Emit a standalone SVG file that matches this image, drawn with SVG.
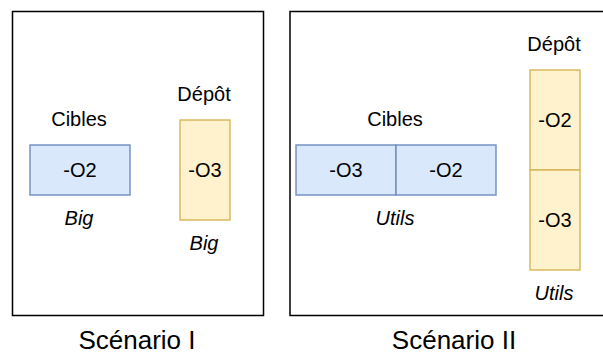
<svg xmlns="http://www.w3.org/2000/svg" width="603" height="354" viewBox="0 0 603 354">
<style>
.frame{fill:#ffffff;stroke:#000000;stroke-width:1.5}
.blue{fill:#dae8fc;stroke:#6c8ebf;stroke-width:1.4}
.yellow{fill:#fff2cc;stroke:#d6b656;stroke-width:1.4}
text{font-family:"Liberation Sans",Arial,Helvetica,sans-serif;fill:#000000;text-anchor:middle}
.lbl{font-size:20px}
.it{font-size:20px;font-style:italic}
.title{font-size:26px}
</style>
<rect width="603" height="354" fill="#ffffff"/>
<g id="scenario1">
  <rect class="frame" x="12.5" y="11.5" width="251" height="304"/>
  <text class="title" x="137" y="349">Scénario I</text>
</g>
<g id="scenario2">
  <rect class="frame" x="290" y="11.5" width="330" height="304"/>
  <text class="title" x="454" y="349">Scénario II</text>
</g>
<g id="s1-cibles">
  <text class="lbl" x="79" y="126">Cibles</text>
  <rect class="blue" x="30" y="145" width="100" height="50"/>
  <text class="lbl" x="80" y="177">-O2</text>
  <text class="it" x="79" y="225">Big</text>
</g>
<g id="s1-depot">
  <text class="lbl" x="204" y="101">Dépôt</text>
  <rect class="yellow" x="180" y="120" width="50" height="100"/>
  <text class="lbl" x="205" y="177">-O3</text>
  <text class="it" x="204" y="250">Big</text>
</g>
<g id="s2-cibles">
  <text class="lbl" x="395" y="126">Cibles</text>
  <rect class="blue" x="296" y="145" width="100" height="50"/>
  <text class="lbl" x="346" y="177">-O3</text>
  <rect class="blue" x="396" y="145" width="100" height="50"/>
  <text class="lbl" x="446" y="177">-O2</text>
  <text class="it" x="395" y="225">Utils</text>
</g>
<g id="s2-depot">
  <text class="lbl" x="554" y="51">Dépôt</text>
  <rect class="yellow" x="530" y="70" width="50" height="100"/>
  <text class="lbl" x="555" y="127">-O2</text>
  <rect class="yellow" x="530" y="170" width="50" height="100"/>
  <text class="lbl" x="555" y="227">-O3</text>
  <text class="it" x="554" y="300">Utils</text>
</g>
<g id="connectors"></g>
</svg>
